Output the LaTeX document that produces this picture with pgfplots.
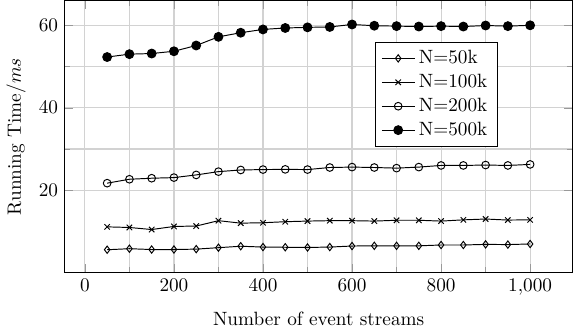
\documentclass[border=0pt]{standalone}
\usepackage{pgfplots}
\pgfplotsset{compat=1.18}
\begin{document}
\begin{tikzpicture}
\begin{axis}[
  scale only axis,
  width=264pt, height=141.5pt,
  xmin=-45, xmax=1095, ymin=0, ymax=66,
  xtick={0,200,400,600,800,1000},
  ytick={20,40,60},
  minor tick num=1,
  grid=both,
  major grid style={gray!35, line width=0.6pt},
  minor grid style={gray!35, line width=0.6pt},
  tick style={gray!80},
  xlabel={Number of event streams},
  xlabel style={yshift=-1.5pt},
  ylabel={Running Time/$ms$},
  legend style={at={(0.852,0.847)}, anchor=north east, font=\normalsize, cells={anchor=west}},
  every axis plot/.append style={black, line width=0.5pt},
]
\addplot[mark=diamond, mark size=1.9pt] coordinates {
(50,5.55)(100,5.8)(150,5.6)(200,5.6)(250,5.7)(300,6.05)(350,6.4)(400,6.2)(450,6.15)(500,6.1)
(550,6.2)(600,6.45)(650,6.5)(700,6.5)(750,6.5)(800,6.7)(850,6.7)(900,6.85)(950,6.8)(1000,6.95)};
\addlegendentry{N=50k}
\addplot[mark=x, mark size=2pt] coordinates {
(50,11.1)(100,10.95)(150,10.45)(200,11.2)(250,11.3)(300,12.6)(350,12.0)(400,12.1)(450,12.35)(500,12.5)
(550,12.6)(600,12.6)(650,12.5)(700,12.7)(750,12.7)(800,12.5)(850,12.8)(900,13.0)(950,12.75)(1000,12.8)};
\addlegendentry{N=100k}
\addplot[mark=o, mark size=2pt] coordinates {
(50,21.7)(100,22.65)(150,22.9)(200,23.05)(250,23.7)(300,24.5)(350,24.9)(400,25.0)(450,25.05)(500,25.0)
(550,25.5)(600,25.6)(650,25.5)(700,25.35)(750,25.6)(800,26.0)(850,26.0)(900,26.1)(950,26.0)(1000,26.25)};
\addlegendentry{N=200k}
\addplot[mark=*, mark size=2.3pt] coordinates {
(50,52.3)(100,53.0)(150,53.15)(200,53.7)(250,55.1)(300,57.2)(350,58.2)(400,59.0)(450,59.35)(500,59.5)
(550,59.6)(600,60.2)(650,59.9)(700,59.8)(750,59.7)(800,59.8)(850,59.7)(900,59.95)(950,59.8)(1000,60.0)};
\addlegendentry{N=500k}
\end{axis}
\end{tikzpicture}
\end{document}
